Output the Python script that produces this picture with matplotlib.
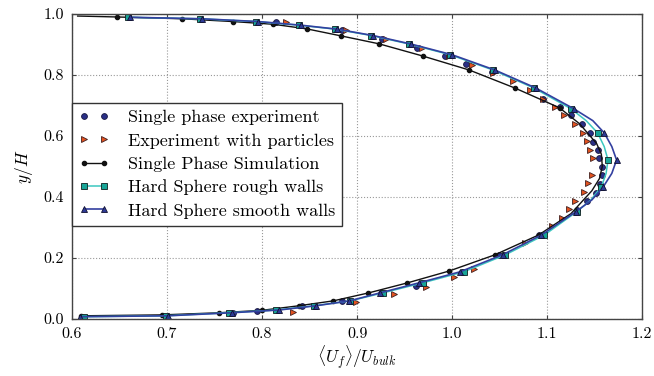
import matplotlib
matplotlib.use("Agg")
import matplotlib.pyplot as plt
import numpy as np

plt.rcParams["font.family"] = "serif"
plt.rcParams["font.serif"] = ["cmr10", "DejaVu Serif"]
plt.rcParams["mathtext.fontset"] = "cm"
plt.rcParams["axes.formatter.use_mathtext"] = True

# Single phase experiment (U, y)
exp_single_u = [0.769, 0.795, 0.842, 0.884, 0.925, 0.962, 1.011, 1.049, 1.091, 1.131,
                1.142, 1.151, 1.156, 1.158, 1.158, 1.155, 1.153, 1.148, 1.145, 1.137,
                1.125, 1.113, 1.096, 1.042, 1.015, 0.992, 0.963, 0.926, 0.884, 0.815]
exp_single_y = [0.020, 0.026, 0.042, 0.060, 0.085, 0.108, 0.154, 0.210, 0.275, 0.357,
                0.387, 0.413, 0.443, 0.472, 0.498, 0.528, 0.554, 0.580, 0.610, 0.639,
                0.669, 0.695, 0.721, 0.810, 0.836, 0.862, 0.889, 0.918, 0.948, 0.974]

# Experiment with particles
exp_part_u = [0.833, 0.899, 0.939, 0.973, 1.002, 1.023, 1.077, 1.105, 1.116, 1.123,
              1.129, 1.139, 1.143, 1.147, 1.148, 1.145, 1.142, 1.138, 1.129, 1.118,
              1.108, 1.096, 1.082, 1.064, 1.043, 1.021, 0.997, 0.968, 0.930, 0.888, 0.825]
exp_part_y = [0.024, 0.056, 0.082, 0.105, 0.136, 0.165, 0.249, 0.305, 0.331, 0.361,
              0.387, 0.416, 0.445, 0.472, 0.528, 0.555, 0.583, 0.610, 0.639, 0.669,
              0.695, 0.722, 0.751, 0.780, 0.806, 0.833, 0.861, 0.889, 0.917, 0.947, 0.975]

# Single phase simulation
sim_u = [0.610, 0.695, 0.755, 0.800, 0.839, 0.875, 0.912, 0.953, 0.997, 1.045,
         1.091, 1.125, 1.147, 1.155, 1.158, 1.157, 1.152, 1.134, 1.113, 1.066,
         1.018, 0.969, 0.923, 0.883, 0.847, 0.812, 0.769, 0.716, 0.647, 0.606]
sim_y = [0.010, 0.013, 0.020, 0.028, 0.043, 0.059, 0.085, 0.118, 0.157, 0.210,
         0.275, 0.345, 0.420, 0.460, 0.500, 0.540, 0.575, 0.640, 0.692, 0.757,
         0.816, 0.862, 0.902, 0.928, 0.951, 0.966, 0.975, 0.984, 0.990, 0.993]
sim_marks = [0, 1, 2, 3, 4, 5, 6, 7, 8, 9, 10, 18, 19, 20, 21, 22, 23, 24, 25, 26, 27, 28]

# Hard sphere model, rough and smooth walls
hs_y = [0.007, 0.010, 0.020, 0.029, 0.043, 0.059, 0.085, 0.118, 0.154, 0.210,
        0.275, 0.351, 0.390, 0.433, 0.477, 0.521, 0.565, 0.610, 0.650, 0.689,
        0.757, 0.816, 0.866, 0.901, 0.929, 0.950, 0.963, 0.975, 0.984, 0.989]
rough_u = [0.613, 0.699, 0.765, 0.815, 0.855, 0.893, 0.927, 0.969, 1.012, 1.056,
           1.097, 1.131, 1.146, 1.157, 1.162, 1.164, 1.160, 1.153, 1.141, 1.125,
           1.086, 1.043, 0.998, 0.955, 0.915, 0.877, 0.839, 0.794, 0.735, 0.659]
smooth_u = [0.609, 0.701, 0.768, 0.818, 0.857, 0.892, 0.924, 0.965, 1.008, 1.053,
            1.094, 1.130, 1.147, 1.159, 1.168, 1.173, 1.168, 1.160, 1.148, 1.128,
            1.088, 1.045, 1.000, 0.957, 0.917, 0.879, 0.841, 0.796, 0.737, 0.661]
hs_marks = [i for i in range(len(hs_y)) if i not in (12, 14, 16, 18)]

fig = plt.figure(figsize=(6.54, 3.76), dpi=100)
ax = fig.add_axes([0.110, 0.152, 0.872, 0.811])

ax.plot(exp_single_u, exp_single_y, ls="none", marker="o", ms=4.2,
        mfc="#2a2f86", mec="#1a1a40", mew=0.6, label="Single phase experiment")
ax.plot(exp_part_u, exp_part_y, ls="none", marker=">", ms=4.2,
        mfc="#e2521f", mec="#402020", mew=0.6, label="Experiment with particles")
ax.plot(sim_u, sim_y, color="#111111", lw=1.0, marker="o", ms=3.0,
        mfc="#111111", mec="#111111", markevery=sim_marks,
        label="Single Phase Simulation")
ax.plot(rough_u, hs_y, color="#3cc8c0", lw=1.1, marker="s", ms=4.6,
        mfc="#17a597", mec="#102020", mew=0.6, markevery=hs_marks,
        label="Hard Sphere rough walls")
ax.plot(smooth_u, hs_y, color="#3340a0", lw=1.2, marker="^", ms=4.4,
        mfc="#2e3a96", mec="#101030", mew=0.6, markevery=hs_marks,
        label="Hard Sphere smooth walls")

ax.set_xlim(0.6, 1.2)
ax.set_ylim(0.0, 1.0)
ax.set_xticks(np.arange(0.6, 1.21, 0.1))
ax.set_yticks(np.arange(0.0, 1.01, 0.2))
ax.set_xticklabels(["0.6", "0.7", "0.8", "0.9", "1.0", "1.1", "1.2"])
ax.set_yticklabels(["0.0", "0.2", "0.4", "0.6", "0.8", "1.0"])
ax.tick_params(direction="in", top=True, right=True, labelsize=11.5,
               length=3, color="#444444", pad=6)
ax.grid(True, ls=":", color="#999999", lw=0.8)
for s in ax.spines.values():
    s.set_color("#444444")
    s.set_linewidth(1.0)

ax.set_xlabel(r"$\langle U_f\rangle/U_{bulk}$", fontsize=12.5, labelpad=2)
ax.set_ylabel(r"$y/H$", fontsize=12.5, labelpad=6)

leg = ax.legend(loc="upper left", bbox_to_anchor=(0.0, 0.708), numpoints=2,
                fontsize=13, fancybox=False, framealpha=1, edgecolor="#333333",
                handlelength=1.7, handletextpad=1.0, borderaxespad=0,
                labelspacing=0.42, borderpad=0.38)
leg.get_frame().set_linewidth(1.0)

fig.savefig("out.png", dpi=100)
